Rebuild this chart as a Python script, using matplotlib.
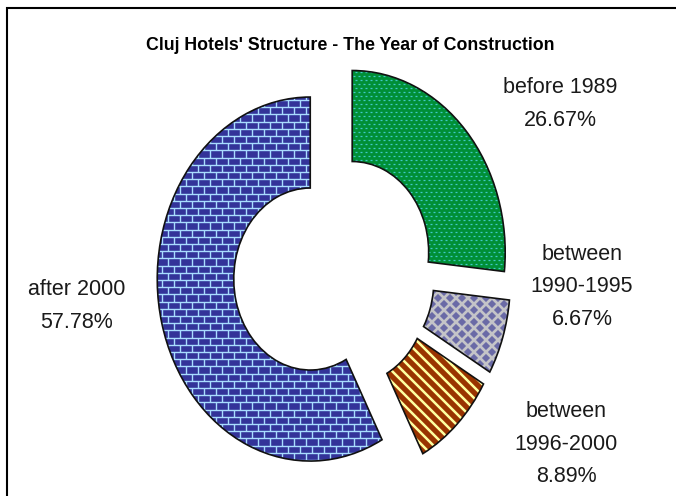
import numpy as np
import matplotlib
matplotlib.use('Agg')
import matplotlib.pyplot as plt
from matplotlib import font_manager
from matplotlib.collections import LineCollection, PolyCollection
from matplotlib.patches import PathPatch, Rectangle
from matplotlib.transforms import IdentityTransform

# data
categories = ['before 1989', 'between 1990-1995', 'between 1996-2000', 'after 2000']
shares = [26.67, 6.67, 8.89, 57.78]
title = "Cluj Hotels' Structure - The Year of Construction"

W, H = 676, 496
fonts = {f.name for f in font_manager.fontManager.ttflist}
body_font = 'Liberation Sans' if 'Liberation Sans' in fonts else 'DejaVu Sans'
title_font = 'Liberation Sans Narrow' if 'Liberation Sans Narrow' in fonts else body_font

fig = plt.figure(figsize=(W / 100, H / 100), dpi=100)
ax = fig.add_axes([0, 0, 1, 1])

# centre of the ring in pixels (from the top) and its radii
cx, cy = 334, 272
rx, ry = 153, 182

wedges, _ = ax.pie(shares, startangle=90, counterclock=False, explode=[0.16] * len(shares),
                   wedgeprops=dict(width=0.5, linewidth=0, edgecolor='none'))
ax.set_xlim(-cx / rx, (W - cx) / rx)
ax.set_ylim(-(H - cy) / ry, cy / ry)
ax.set_aspect('auto')
ax.axis('off')
fig.canvas.draw()


def add_texture(wedge, coll):
    coll.set_transform(IdentityTransform())
    coll.set_clip_path(wedge)
    coll.set_zorder(wedge.get_zorder() + 0.5)
    ax.add_collection(coll, autolim=False)


def bbox_of(wedge):
    bb = wedge.get_path().get_extents(wedge.get_transform())
    return bb.x0 - 15, bb.x1 + 15, bb.y0 - 15, bb.y1 + 15


green, grey, orange, blue = wedges

# green: small cyan dashes
green.set_facecolor('#008f36')
x0, x1, y0, y1 = bbox_of(green)
segs = []
for j, y in enumerate(np.arange(0, H, 4.0)):
    if y0 <= y <= y1:
        for x in np.arange((j % 2) * 2.5, W, 5.0):
            if x0 <= x <= x1:
                segs.append([(x, y), (x + 2, y)])
add_texture(green, LineCollection(segs, colors='#40c8c8', linewidths=0.9))

# grey: purple diamonds
grey.set_facecolor('#c4c4c8')
x0, x1, y0, y1 = bbox_of(grey)
s = 12.0
polys = []
for j, y in enumerate(np.arange(0, H, s / 2)):
    if y0 <= y <= y1:
        for x in np.arange((j % 2) * s / 2, W, s):
            if x0 <= x <= x1:
                h = s * 0.34
                polys.append([(x - h, y), (x, y + h), (x + h, y), (x, y - h)])
add_texture(grey, PolyCollection(polys, facecolors='#6a6aa6', edgecolors='none'))

# orange: light yellow diagonal stripes
orange.set_facecolor('#993300')
x0, x1, y0, y1 = bbox_of(orange)
segs = [[(x0, c - x0), (x1, c - x1)] for c in np.arange(0, 2 * (W + H), 11.0)]
add_texture(orange, LineCollection(segs, colors='#ffffa0', linewidths=1.8))

# blue: bricks
blue.set_facecolor('#333399')
x0, x1, y0, y1 = bbox_of(blue)
row, bw = 7.2, 12.0
segs = []
for j, y in enumerate(np.arange(0, H, row)):
    if y0 <= y <= y1:
        segs.append([(x0, y), (x1, y)])
        for x in np.arange((j % 2) * bw / 2, W, bw):
            if x0 <= x <= x1:
                segs.append([(x, y), (x, y + row)])
add_texture(blue, LineCollection(segs, colors='#a8dcff', linewidths=1.0))

# outlines on top
for w in wedges:
    ax.add_patch(PathPatch(w.get_path(), transform=ax.transData, facecolor='none',
                           edgecolor='#111111', linewidth=1.2, zorder=5))

# labels: category + share
label_pos = [(560, 104), (582, 287), (566, 444), (77, 306)]
for name, share, (lx, ly) in zip(categories, shares, label_pos):
    txt = name.replace('between ', 'between\n') + '\n' + f'{share:.2f}%'
    fig.text(lx / W, 1 - ly / H, txt, ha='center', va='center', fontsize=15.5,
             family=body_font, color='#1a1a1a', linespacing=1.73)

t = fig.text(350 / W, 1 - 46 / H, title, ha='center', va='center', fontsize=13,
             fontweight='bold', family=title_font, color='black')
fig.canvas.draw()
tw = t.get_window_extent().width
t.set_fontsize(13 * 406 / tw)

fig.add_artist(Rectangle((7 / W, -0.1), 1.2, 1 - 8 / H + 0.1, transform=fig.transFigure,
                         fill=False, edgecolor='black', linewidth=1.5))

fig.savefig('out.png', dpi=100)
